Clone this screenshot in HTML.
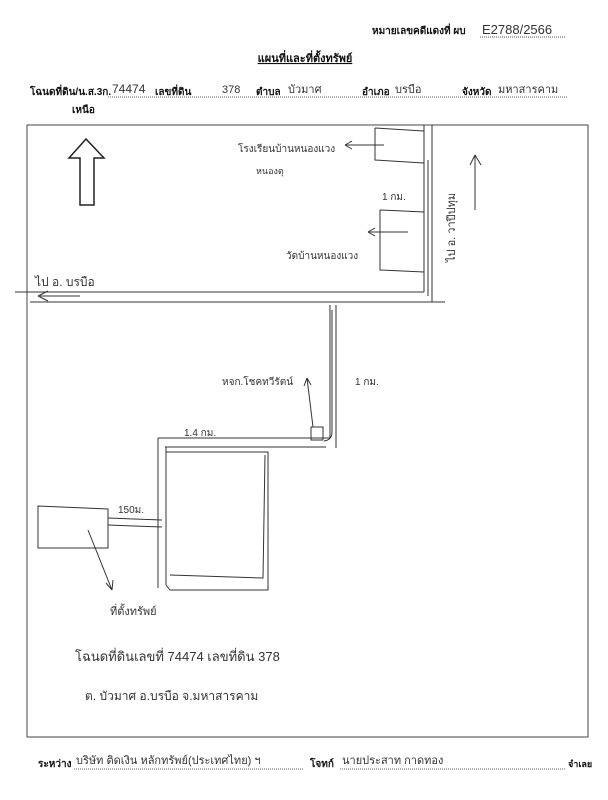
<!DOCTYPE html>
<html><head><meta charset="utf-8"><style>
html,body{margin:0;padding:0;background:#fff;}
svg{display:block}
.b{font-family:"Liberation Sans","Noto Sans CJK SC",sans-serif;font-weight:bold;fill:#111}
.h{font-family:"Liberation Sans","Noto Sans CJK SC",sans-serif;fill:#333}
</style></head><body>
<svg width="608" height="800" viewBox="0 0 608 800" xmlns="http://www.w3.org/2000/svg">
<rect width="608" height="800" fill="#fff"/>
<!-- header -->
<text x="372" y="34" class="b" font-size="10">หมายเลขคดีแดงที่ ผบ</text>
<text x="482" y="34" class="h" font-size="13">E2788/2566</text>
<line x1="480" y1="37" x2="566" y2="37" stroke="#555" stroke-dasharray="1,1"/>
<text x="305" y="62" class="b" font-size="11" text-anchor="middle" text-decoration="underline">แผนที่และที่ตั้งทรัพย์</text>
<text x="30" y="95" class="b" font-size="10">โฉนดที่ดิน/น.ส.3ก.</text>
<text x="112" y="93" class="h" font-size="12">74474</text>
<text x="155" y="95" class="b" font-size="10">เลขที่ดิน</text>
<text x="222" y="93" class="h" font-size="11">378</text>
<text x="256" y="95" class="b" font-size="10">ตำบล</text>
<text x="288" y="93" class="h" font-size="11">บัวมาศ</text>
<text x="362" y="95" class="b" font-size="10">อำเภอ</text>
<text x="395" y="93" class="h" font-size="11">บรบือ</text>
<text x="462" y="95" class="b" font-size="10">จังหวัด</text>
<text x="498" y="93" class="h" font-size="11">มหาสารคาม</text>
<line x1="108" y1="97" x2="568" y2="97" stroke="#666" stroke-dasharray="1,1"/>
<text x="72" y="113" class="b" font-size="10">เหนือ</text>
<!-- frame -->
<rect x="27" y="125" width="561" height="612" fill="none" stroke="#444" stroke-width="1"/>
<!-- north arrow -->
<path d="M80 205 V158 H69 L86 139 L104 158 H94 V205 Z" fill="none" stroke="#222" stroke-width="1.5"/>
<g fill="none" stroke="#333" stroke-width="1">
<!-- vertical road top -->
<line x1="424" y1="125" x2="424" y2="292"/>
<line x1="432" y1="125" x2="432" y2="302"/>
<line x1="428" y1="160" x2="428" y2="296"/>
<!-- horizontal road -->
<line x1="15" y1="292" x2="424" y2="292"/>
<line x1="30" y1="302" x2="445" y2="302"/>
<path d="M40 296 L80 296 M38 296 L48 291 M38 296 L48 301"/>
<!-- church box -->
<path d="M375 128 L424 131 M375 128 V160 L424 163"/>
<path d="M384 145 H345 M345 145 L352 141 M345 145 L352 149"/>
<!-- temple -->
<path d="M380 210 L424 212 M380 210 V270 L424 272"/>
<path d="M408 232 H368 M368 232 L375 228 M368 232 L375 236"/>
<!-- north arrow right -->
<path d="M475 210 V155 M475 155 L470 165 M475 155 L481 165"/>
<!-- down connector -->
<line x1="330" y1="305" x2="330" y2="438"/>
<line x1="336" y1="305" x2="336" y2="448"/>
<path d="M332 310 V432 Q332 440 324 441"/>
<!-- small box -->
<rect x="311" y="427" width="12" height="13"/>
<path d="M313 427 L307 378 M307 378 L304 386 M307 378 L311 385"/>
<!-- horizontal to left -->
<line x1="158" y1="438" x2="330" y2="438"/>
<line x1="165" y1="447" x2="326" y2="447"/>
<line x1="158" y1="438" x2="158" y2="588"/>
<line x1="166" y1="447" x2="166" y2="585"/>
<!-- property -->
<path d="M166 452 H268 V590 H170 L166 585 M265 455 L263 578 L170 575"/>
<!-- left box -->
<path d="M38 506 L108 509 V548 H38 Z"/>
<line x1="108" y1="518" x2="162" y2="520"/>
<line x1="108" y1="525" x2="162" y2="527"/>
<path d="M88 530 L112 590 M112 590 L106 583 M112 590 L113 580"/>
</g>
<!-- handwritten labels -->
<text x="238" y="152" class="h" font-size="10">โรงเรียนบ้านหนองแวง</text>
<text x="256" y="174" class="h" font-size="9">หนองตุ</text>
<text x="382" y="200" class="h" font-size="10">1 กม.</text>
<text x="286" y="259" class="h" font-size="10">วัดบ้านหนองแวง</text>
<text x="455" y="262" class="h" font-size="11" transform="rotate(-90 455 262)">ไป อ. วาปีปทุม</text>
<text x="35" y="286" class="h" font-size="12">ไป อ. บรบือ</text>
<text x="222" y="385" class="h" font-size="10">หจก.โชคทวีรัตน์</text>
<text x="355" y="385" class="h" font-size="10">1 กม.</text>
<text x="184" y="436" class="h" font-size="10">1.4 กม.</text>
<text x="118" y="513" class="h" font-size="10">150ม.</text>
<text x="110" y="615" class="h" font-size="11">ที่ตั้งทรัพย์</text>
<text x="75" y="661" class="h" font-size="13">โฉนดที่ดินเลขที่ 74474 เลขที่ดิน 378</text>
<text x="85" y="700" class="h" font-size="12">ต. บัวมาศ  อ.บรบือ  จ.มหาสารคาม</text>
<!-- footer -->
<text x="38" y="767" class="b" font-size="10">ระหว่าง</text>
<text x="76" y="764" class="h" font-size="11">บริษัท ติดเงิน หลักทรัพย์(ประเทศไทย) ฯ</text>
<line x1="74" y1="769" x2="304" y2="769" stroke="#666" stroke-dasharray="1,1"/>
<text x="310" y="767" class="b" font-size="10">โจทก์</text>
<text x="342" y="764" class="h" font-size="11">นายประสาท  กาดทอง</text>
<line x1="340" y1="769" x2="565" y2="769" stroke="#666" stroke-dasharray="1,1"/>
<text x="568" y="767" class="b" font-size="9">จำเลย</text>
</svg>
</body></html>
